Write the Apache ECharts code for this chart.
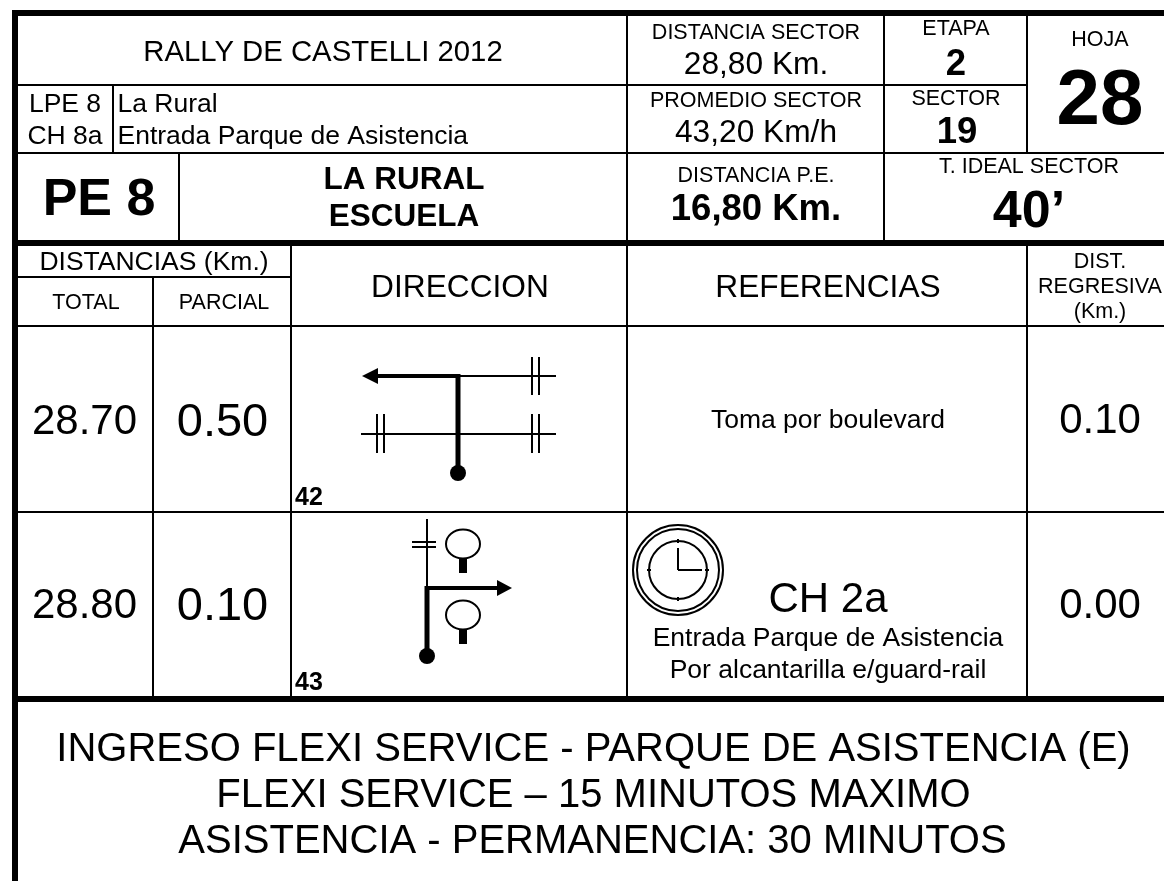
<!DOCTYPE html>
<html lang="en" style="background: #FFFFFF;height: 100%">
<head>
  <meta charset="utf-8" />
  <title>Rally de Castelli 2012 - hoja 28</title>
  <script src="https://cdn.jsdelivr.net/npm/echarts@6/dist/echarts.min.js"></script>
</head>
<body style="margin: 0;height: 100%">
<div id="chart" style="width: 1164px;height: 881px"></div>
<script>
// everything is plotted on one hidden value grid, one unit = one pixel of the sheet
// [x1, y1, x2, y2]
const frameLines = [
  [12, 13, 1164, 13], [15, 10, 15, 881], [18, 243, 1164, 243], [18, 699, 1164, 699]
];
const cellLines = [
  [18, 85, 1027, 85], [18, 153, 1164, 153], [18, 277, 291, 277], [18, 326, 1164, 326], [18, 512, 1164, 512],
  [113, 85, 113, 153], [179, 153, 179, 243], [153, 277, 153, 699], [291, 243, 291, 699],
  [627, 13, 627, 699], [884, 13, 884, 243], [1027, 13, 1027, 153], [1027, 243, 1027, 699]
];
const roadLines = [
  [458, 376, 556, 376], [361, 434, 556, 434],
  [532, 357, 532, 395], [539, 357, 539, 395],
  [532, 414, 532, 453], [539, 414, 539, 453],
  [377, 414, 377, 453], [384, 414, 384, 453],
  [427, 519, 427, 588], [412, 542, 436, 542], [412, 547, 436, 547],
  // clock
  [678, 548, 678, 570], [678, 570, 702, 570],
  [678, 539, 678, 543], [678, 597, 678, 601], [647, 570, 651, 570], [705, 570, 709, 570]
];
const routeAcross = [[375, 376, 460, 376], [425, 588, 498, 588]];
const routeUp = [[458, 374, 458, 473], [427, 586, 427, 656]];
const stemLines = [[463, 558, 463, 573], [463, 629, 463, 644]];
const startDots = [[458, 473], [427, 656]];
const arrowHeads = [
  [[362, 376], [378, 368], [378, 384]],
  [[512, 588], [497, 580], [497, 596]]
];
// [x, y, rx, ry]
const signRings = [[463, 544, 17, 14.5], [463, 615, 17, 14.5]];
const clockRings = [[678, 570, 45, 45], [678, 570, 41, 41], [678, 570, 29, 29]];

// [x, y, text], y is the middle of the capitals
const captions = [
  [86, 302, 'TOTAL'], [224, 302, 'PARCIAL'], [1100, 261, 'DIST.'], [1100, 286, 'REGRESIVA'], [1100, 311, '(Km.)'],
  [756, 32, 'DISTANCIA SECTOR'], [756, 100, 'PROMEDIO SECTOR'], [756, 175, 'DISTANCIA P.E.'],
  [956, 28, 'ETAPA'], [956, 98, 'SECTOR'], [1100, 39, 'HOJA'], [1029, 166, 'T. IDEAL SECTOR']
];
const notes = [
  [154, 261, 'DISTANCIAS (Km.)'], [65, 103, 'LPE 8'], [65, 135, 'CH 8a'],
  [828, 637, 'Entrada Parque de Asistencia'], [828, 669, 'Por alcantarilla e/guard-rail'], [828, 419, 'Toma por boulevard']
];
const notesLeft = [[117.5, 103, 'La Rural'], [117.5, 135, 'Entrada Parque de Asistencia']];
const titleText = [[323, 51, 'RALLY DE CASTELLI 2012']];
const headings = [
  [756, 63, '28,80 Km.'], [756, 131, '43,20 Km/h'], [460, 286, 'DIRECCION'], [828, 286, 'REFERENCIAS']
];
const totals = [
  [84.5, 420, '28.70'], [1100, 419, '0.10'], [84.5, 604, '28.80'], [1100, 604, '0.00'], [828, 598, 'CH 2a']
];
const partials = [[222.5, 420, '0.50'], [222.5, 604, '0.10']];
const closing = [
  [593.5, 747, 'INGRESO FLEXI SERVICE - PARQUE DE ASISTENCIA (E)'],
  [593.5, 793, 'FLEXI SERVICE \u2013 15 MINUTOS MAXIMO'],
  [592.5, 839, 'ASISTENCIA - PERMANENCIA: 30 MINUTOS']
];
const stepNumbers = [[295, 496, '42'], [295, 681, '43']];
const stageNames = [[404, 178, 'LA RURAL'], [404, 215, 'ESCUELA']];
const stageValues = [[956, 63, '2'], [957, 131, '19'], [756, 208, '16,80 Km.']];
const bigMarks = [[99, 197, 'PE 8'], [1029, 209, '40\u2019']];
const sheetNumber = [[1100, 97, '28']];

function lineSeries(list, width) {
  return {
    type: 'custom', data: list, clip: false, silent: true,
    renderItem: function (params, api) {
      const a = api.coord([api.value(0), api.value(1)]);
      const b = api.coord([api.value(2), api.value(3)]);
      return { type: 'line', shape: { x1: a[0], y1: a[1], x2: b[0], y2: b[1] }, style: { stroke: '#000', lineWidth: width } };
    }
  };
}
function ringSeries(list, width) {
  return {
    type: 'custom', data: list, clip: false, silent: true,
    renderItem: function (params, api) {
      const c = api.coord([api.value(0), api.value(1)]);
      const r = api.size([api.value(2), api.value(3)]);
      return { type: 'ellipse', shape: { cx: c[0], cy: c[1], rx: r[0], ry: r[1] }, style: { stroke: '#000', fill: 'none', lineWidth: width } };
    }
  };
}
function dotSeries(list, radius) {
  return {
    type: 'scatter', data: list, symbol: 'circle', symbolSize: radius * 2, silent: true,
    itemStyle: { color: '#000', opacity: 1 }
  };
}
function headSeries(list) {
  return {
    type: 'custom', data: list.map(function (h, i) { return [h[0][0], h[0][1], i]; }), clip: false, silent: true,
    renderItem: function (params, api) {
      return { type: 'polygon', shape: { points: list[params.dataIndex].map(function (p) { return api.coord(p); }) }, style: { fill: '#000' } };
    }
  };
}
function textSeries(list, size, weight, align) {
  return {
    type: 'custom', data: list.map(function (t) { return [t[0], t[1]]; }), clip: false, silent: true,
    renderItem: function (params, api) {
      const c = api.coord([api.value(0), api.value(1)]);
      return {
        type: 'text', x: c[0], y: c[1] + size * 0.065,
        style: {
          text: list[params.dataIndex][2], fill: '#000', align: align || 'center', verticalAlign: 'middle',
          fontFamily: '"Liberation Sans", Arial, sans-serif', fontSize: size, fontWeight: weight || 'normal'
        }
      };
    }
  };
}

const chart = echarts.init(document.getElementById('chart'), null, { renderer: 'canvas' });
chart.setOption({
  animation: false,
  backgroundColor: '#fff',
  tooltip: { show: false },
  grid: { left: 0, right: 0, top: 0, bottom: 0 },
  xAxis: { type: 'value', min: 0, max: 1164, show: false },
  yAxis: { type: 'value', min: 0, max: 881, inverse: true, show: false },
  series: [
    lineSeries(cellLines, 2),
    lineSeries(frameLines, 6),
    lineSeries(roadLines, 2),
    lineSeries(routeAcross, 4),
    lineSeries(routeUp, 5),
    lineSeries(stemLines, 8),
    dotSeries(startDots, 8),
    headSeries(arrowHeads),
    ringSeries(signRings, 2),
    ringSeries(clockRings, 2),
    textSeries(captions, 21.5),
    textSeries(notes, 26.5),
    textSeries(notesLeft, 26.5, 'normal', 'left'),
    textSeries(titleText, 29.3),
    textSeries(headings, 31.7),
    textSeries(totals, 42),
    textSeries(partials, 47),
    textSeries(closing, 40),
    textSeries(stepNumbers, 25, 'bold', 'left'),
    textSeries(stageNames, 31.5, 'bold'),
    textSeries(stageValues, 36.5, 'bold'),
    textSeries(bigMarks, 52, 'bold'),
    textSeries(sheetNumber, 78, 'bold')
  ]
});
</script>
</body>
</html>
